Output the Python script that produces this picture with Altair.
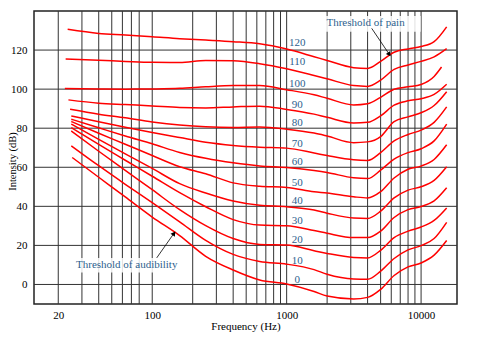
import altair as alt
import pandas as pd

X_DOMAIN = [13.2, 18500]
Y_DOMAIN = [-10, 140]

phons = [0, 10, 20, 30, 40, 50, 60, 70, 80, 90, 100, 110, 120]
start_freq = [25.4, 25, 25, 25, 25, 25, 25, 25, 24.5, 23.8, 22.4, 22.7, 23.5]
end_freq = [15500, 15500, 15500, 15500, 15500, 15500, 15500, 15500, 15500, 15500, 14200, 15500, 15500]
mid_freq = [40, 63, 100, 160, 250, 400, 630, 1000, 1600, 2000, 3150, 4000, 5000, 6300, 8000, 10000, 12500]

# dB values: start, mid_freq..., end
c0 = [65.0, 54.9, 44.8, 34.5, 25.0, 14.4, 7.4, 2.3, 0.2, -3.6, -5.9, -7.4, -6.6, -2.5, 4.6, 9.0, 11.0, 15.0, 22.5]
c10 = [71.0, 60.8, 51.3, 41.9, 32.1, 22.6, 15.4, 11.8, 10.4, 7.6, 5.2, 2.8, 2.7, 6.8, 13.3, 17.7, 19.9, 23.5, 31.8]
c20 = [78.6, 68.2, 58.4, 48.5, 38.3, 30.1, 23.5, 20.5, 20.2, 17.3, 15.9, 13.8, 13.6, 17.5, 24.0, 27.3, 29.4, 32.8, 39.2]
c30 = [80.3, 71.7, 63.6, 55.4, 47.0, 39.8, 33.2, 30.4, 30.1, 27.6, 26.2, 24.0, 24.0, 27.3, 34.3, 38.3, 39.9, 42.8, 49.5]
c40 = [82.1, 74.3, 66.9, 59.4, 51.6, 46.8, 42.7, 40.5, 39.8, 38.1, 36.5, 34.0, 33.8, 37.5, 44.3, 48.3, 50.0, 53.3, 60.3]
c50 = [83.4, 77.4, 71.8, 66.0, 60.3, 56.7, 52.0, 50.3, 49.7, 47.5, 46.8, 44.9, 44.3, 47.5, 54.5, 59.0, 60.6, 64.0, 71.5]
c60 = [84.6, 80.2, 76.0, 72.0, 67.6, 64.6, 62.3, 60.7, 59.9, 58.3, 57.3, 54.6, 54.2, 58.5, 64.2, 67.5, 69.5, 73.5, 82.1]
c70 = [86.3, 83.3, 80.5, 77.8, 75.2, 72.8, 71.2, 70.3, 69.8, 67.3, 66.0, 63.8, 63.5, 67.5, 73.5, 76.8, 79.0, 83.0, 90.9]
c80 = [89.7, 87.2, 85.3, 83.2, 81.6, 80.7, 80.4, 80.6, 79.5, 77.5, 76.0, 72.6, 73.0, 75.7, 83.4, 85.8, 87.9, 91.6, 98.7]
c90 = [94.5, 92.8, 92.1, 91.4, 90.6, 90.4, 90.9, 91.3, 89.6, 87.2, 85.6, 82.7, 83.0, 86.3, 91.8, 94.0, 95.1, 97.3, 102.5]
c100 = [100.3, 100.1, 100.0, 100.1, 100.4, 101.2, 101.8, 101.8, 99.7, 97.1, 95.3, 91.9, 92.5, 95.8, 99.9, 101.2, 102.4, 106.5, 111.3]
c110 = [115.4, 114.8, 114.2, 113.7, 113.6, 114.7, 114.5, 113.0, 110.4, 107.0, 105.3, 101.8, 101.4, 104.6, 110.1, 112.4, 114.2, 116.5, 120.7]
c120 = [130.6, 128.5, 127.7, 126.8, 125.8, 125.1, 124.3, 123.2, 120.5, 116.6, 114.7, 111.0, 110.6, 114.2, 118.9, 120.6, 121.8, 124.3, 131.9]
curves = [c0, c10, c20, c30, c40, c50, c60, c70, c80, c90, c100, c110, c120]

label_freq = 1200
label_db = [2.4, 12.1, 22.6, 32.5, 42.7, 52.1, 62.7, 71.7, 82.7, 92.1, 102.5, 113.7, 123.6]

grid_freq = [20, 30, 40, 50, 60, 70, 80, 100, 200, 300, 400, 500, 600, 700, 800, 900,
             1000, 2000, 3000, 4000, 5000, 6000, 7000, 8000, 9000, 10000]
grid_db = [0, 20, 40, 60, 80, 100, 120]
x_ticks = [20, 100, 1000, 10000]
y_ticks = [0, 20, 40, 60, 80, 100, 120]

notes = ["Threshold of pain", "Threshold of audibility"]
note_freq = [3862, 64.6]
note_db = [133.8, 10.1]
box_f1 = [1963, 26.6]
box_f2 = [9938, 182]
box_db1 = [129.4, 6.1]
box_db2 = [137.4, 13.6]
arrow_f1 = [4294, 108]
arrow_db1 = [131.1, 13.6]
arrow_f2 = [5803, 145.2]
arrow_db2 = [117.8, 26.2]
arrow_angle = [146, 35]

FONT = "Liberation Serif"
BLUE = "#2e5f8e"

rows = []
for p, s, e, vals in zip(phons, start_freq, end_freq, curves):
    fs = [s] + mid_freq + [e]
    for f, d in zip(fs, vals):
        rows.append({"phon": p, "f": f, "db": d})
df = pd.DataFrame(rows)

xs = alt.Scale(type="log", domain=X_DOMAIN, nice=False)
ys = alt.Scale(domain=Y_DOMAIN, nice=False, zero=False)

AX = alt.Axis(values=x_ticks, format="d", title="Frequency (Hz)",
              grid=False, ticks=False, domain=False, labelPadding=5,
              labelFont=FONT, labelFontSize=11, labelColor="black",
              titleFont=FONT, titleFontSize=11, titleFontWeight="normal",
              titleColor="black", titleY=22, titleBaseline="middle")
AY = alt.Axis(values=y_ticks, title="Intensity (dB)",
              grid=False, ticks=False, domain=False, labelPadding=7,
              labelFont=FONT, labelFontSize=11, labelColor="black",
              titleFont=FONT, titleFontSize=10.5, titleFontWeight="normal",
              titleColor="black", titleX=-18.7, titleY=150,
              titleBaseline="alphabetic", titleAlign="center")


def X(field):
    return alt.X(field, type="quantitative", scale=xs, axis=AX, title="Frequency (Hz)")


def Y(field):
    return alt.Y(field, type="quantitative", scale=ys, axis=AY, title="Intensity (dB)")


vgrid = alt.Chart(pd.DataFrame({"f": grid_freq})).mark_rule(color="#333333", strokeWidth=1).encode(
    x=X("f"))
hgrid = alt.Chart(pd.DataFrame({"db": grid_db})).mark_rule(color="#333333", strokeWidth=1).encode(
    y=Y("db"))

boxes = alt.Chart(pd.DataFrame({"f1": box_f1, "f2": box_f2, "d1": box_db1, "d2": box_db2})).mark_rect(
    color="white", opacity=0.85).encode(
    x=X("f1"), x2="f2:Q", y=Y("d1"), y2="d2:Q")

lines = alt.Chart(df).mark_line(color="#ff0000", strokeWidth=1.5, interpolate="monotone").encode(
    x=X("f"), y=Y("db"), detail="phon:N")

labels = alt.Chart(pd.DataFrame({"f": [label_freq] * len(phons), "db": label_db,
                                 "t": [str(p) for p in phons]})).mark_text(
    font=FONT, fontSize=11, color=BLUE, align="center", baseline="middle").encode(
    x=X("f"), y=Y("db"), text="t:N")

note_text = alt.Chart(pd.DataFrame({"f": note_freq, "db": note_db, "t": notes})).mark_text(
    font=FONT, fontSize=11, color=BLUE, align="center", baseline="middle").encode(
    x=X("f"), y=Y("db"), text="t:N")

arrows = alt.Chart(pd.DataFrame({"f1": arrow_f1, "d1": arrow_db1, "f2": arrow_f2, "d2": arrow_db2})).mark_rule(
    color="black", strokeWidth=0.8).encode(
    x=X("f1"), x2="f2:Q", y=Y("d1"), y2="d2:Q")

heads = alt.Chart(pd.DataFrame({"f": arrow_f2, "db": arrow_db2, "a": arrow_angle})).mark_point(
    shape="triangle-up", filled=True, color="black", size=28, opacity=1).encode(
    x=X("f"), y=Y("db"), angle=alt.Angle("a:Q", scale=None))

chart = alt.layer(vgrid, hgrid, boxes, lines, labels, note_text, arrows, heads).properties(
    width=423, height=293,
    autosize=alt.AutoSizeParams(type="none"),
    padding={"left": 26, "top": 3, "right": 35, "bottom": 40},
    background="white",
).configure_view(stroke="#222222", strokeWidth=1.5)

chart.save("out.html", embed_options={"renderer": "svg", "actions": False})
